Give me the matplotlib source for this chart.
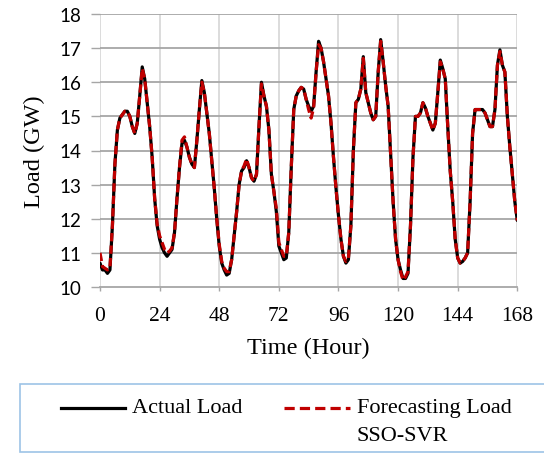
import matplotlib
matplotlib.use("Agg")
import matplotlib.pyplot as plt
from matplotlib.patches import Rectangle
from matplotlib.lines import Line2D

hours = list(range(0, 169))

actual = [
    10.7, 10.5, 10.5, 10.4, 10.5, 11.8, 13.6, 14.6, 14.95, 15.05,
    15.15, 15.15, 15.0, 14.7, 14.5, 14.8, 15.6, 16.45, 16.1, 15.4,
    14.7, 13.8, 12.6, 11.8, 11.4, 11.15, 11.0, 10.9, 11.0, 11.1,
    11.6, 12.6, 13.5, 14.2, 14.3, 14.1, 13.8, 13.6, 13.5, 14.3,
    15.2, 16.05, 15.7, 15.1, 14.5, 13.7, 12.9, 12.0, 11.2, 10.7,
    10.5, 10.35, 10.4, 10.8, 11.5, 12.2, 13.0, 13.4, 13.5, 13.7,
    13.5, 13.2, 13.1, 13.3, 14.7, 16.0, 15.6, 15.3, 14.6, 13.3,
    12.8, 12.2, 11.2, 11.0, 10.8, 10.85, 11.6, 13.5, 15.2, 15.6,
    15.75, 15.85, 15.8, 15.5, 15.3, 15.15, 15.3, 16.3, 17.2, 17.0,
    16.6, 16.1, 15.6, 14.8, 13.8, 12.9, 12.1, 11.4, 10.9, 10.7,
    10.8, 11.8, 14.0, 15.4, 15.5, 15.8, 16.75, 15.7, 15.4, 15.1,
    14.9, 15.0, 16.3, 17.25, 16.6, 15.9, 15.3, 13.9, 12.5, 11.4,
    10.8, 10.5, 10.25, 10.25, 10.4, 11.8, 13.8, 15.0, 15.0, 15.1,
    15.4, 15.25, 15.0, 14.8, 14.6, 14.8, 15.7, 16.65, 16.4, 16.1,
    14.7, 13.4, 12.5, 11.4, 10.85, 10.7, 10.75, 10.85, 11.0, 12.5,
    14.5, 15.2, 15.2, 15.2, 15.2, 15.1, 14.9, 14.7, 14.7, 15.2,
    16.5, 16.95, 16.5, 16.3, 15.0, 14.1, 13.3, 12.5, 11.95,
]

forecast = [
    11.0, 10.6, 10.55, 10.5, 10.55, 11.8, 13.6, 14.6, 14.95, 15.05,
    15.15, 15.15, 15.0, 14.7, 14.5, 14.8, 15.6, 16.4, 16.1, 15.4,
    14.7, 13.8, 12.6, 11.85, 11.5, 11.3, 11.1, 11.0, 11.05, 11.15,
    11.6, 12.6, 13.5, 14.3, 14.4, 14.1, 13.8, 13.6, 13.5, 14.3,
    15.2, 16.0, 15.7, 15.1, 14.5, 13.7, 12.9, 12.0, 11.25, 10.75,
    10.55, 10.45, 10.45, 10.8, 11.5, 12.2, 13.0, 13.4, 13.55, 13.75,
    13.5, 13.2, 13.1, 13.3, 14.7, 15.95, 15.6, 15.3, 14.6, 13.3,
    12.8, 12.3, 11.3, 11.1, 10.9, 10.9, 11.6, 13.5, 15.2, 15.6,
    15.75, 15.85, 15.8, 15.5, 15.2, 14.95, 15.25, 16.3, 17.1, 17.0,
    16.6, 16.1, 15.6, 14.8, 13.8, 12.9, 12.1, 11.4, 10.9, 10.75,
    10.85, 11.8, 14.0, 15.4, 15.5, 15.8, 16.7, 15.7, 15.4, 15.1,
    14.9, 15.0, 16.3, 17.2, 16.6, 15.9, 15.3, 13.9, 12.5, 11.4,
    10.8, 10.45, 10.2, 10.3, 10.45, 11.8, 13.8, 15.0, 15.0, 15.1,
    15.4, 15.25, 15.0, 14.8, 14.6, 14.8, 15.7, 16.6, 16.4, 16.1,
    14.7, 13.4, 12.5, 11.4, 10.85, 10.7, 10.75, 10.85, 11.0, 12.5,
    14.5, 15.2, 15.2, 15.2, 15.2, 15.1, 14.9, 14.7, 14.7, 15.2,
    16.5, 16.9, 16.5, 16.3, 15.0, 14.1, 13.3, 12.5, 11.95,
]

x_ticks = [0, 24, 48, 72, 96, 120, 144, 168]
y_ticks = [10, 11, 12, 13, 14, 15, 16, 17, 18]

W, H = 544, 456
fig = plt.figure(figsize=(W / 100, H / 100), dpi=100)
ax = fig.add_axes([100 / W, (H - 288) / H, (517.3 - 100) / W, (288 - 15) / H])

ax.plot(hours, actual, color="black", lw=2.3, solid_capstyle="round", zorder=3)
ax.plot(hours, forecast, color="#c00000", lw=2.3, linestyle=(0, (2.6, 1.3)), zorder=4)

ax.set_xlim(0, 168)
ax.set_ylim(10, 18)
ax.set_xticks(x_ticks)
ax.set_yticks(y_ticks)

for y in y_ticks[1:]:
    ax.axhline(y, color="#a6a6a6", lw=1.3, zorder=1)
for x in x_ticks:
    ax.axvline(x, color="#d9d9d9", lw=1.3, zorder=0.5)

for s in ["top", "right", "left"]:
    ax.spines[s].set_visible(False)
ax.spines["bottom"].set_color("#a6a6a6")
ax.spines["bottom"].set_linewidth(1.3)

ax.tick_params(axis="y", direction="out", length=6.5, width=1.0, color="#a6a6a6",
               pad=7, labelsize=13.5)
ax.tick_params(axis="x", direction="out", length=3, width=1.0, color="#a6a6a6",
               pad=11, labelsize=15.5)
for lab in ax.get_yticklabels():
    lab.set_fontfamily("Lato")
for lab in ax.get_xticklabels():
    lab.set_fontfamily("Liberation Serif")

ax.set_xlabel("Time (Hour)", family="Liberation Serif", fontsize=17.5, labelpad=8)
ax.set_ylabel("Load (GW)", family="Liberation Serif", fontsize=17.5, labelpad=10)

# legend box
rect = Rectangle((20 / W, (H - 453) / H), (560 - 20) / W, (453 - 385) / H,
                 transform=fig.transFigure, facecolor="white",
                 edgecolor="#9dc3e6", lw=1.2, clip_on=False)
fig.patches.append(rect)
ly = (H - 409) / H
fig.add_artist(Line2D([61 / W, 125 / W], [ly, ly], transform=fig.transFigure,
                      color="black", lw=2.3))
fig.text(132 / W, ly, "Actual Load", family="Liberation Serif", fontsize=16,
         va="center", ha="left")
fig.add_artist(Line2D([284 / W, 350 / W], [ly, ly], transform=fig.transFigure,
                      color="#c00000", lw=2.3, linestyle=(0, (3.2, 1.6))))
fig.text(357 / W, ly, "Forecasting Load", family="Liberation Serif", fontsize=16,
         va="center", ha="left")
fig.text(357 / W, (H - 437) / H, "SSO-SVR", family="Liberation Serif", fontsize=16,
         va="center", ha="left")

fig.savefig("out.png", dpi=100)
